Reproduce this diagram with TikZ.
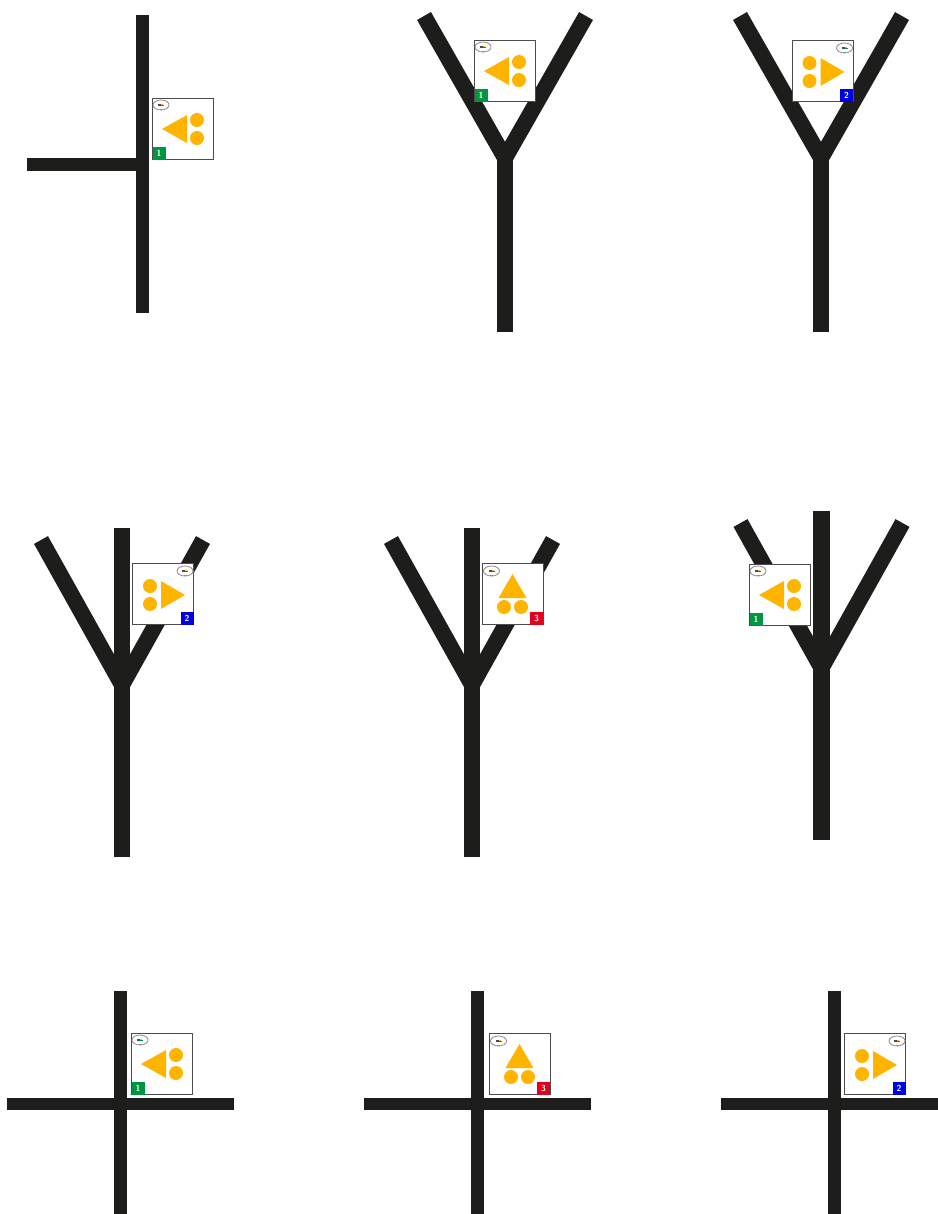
\documentclass[tikz,border=0pt]{standalone}
\usepackage{xcolor}
\usetikzlibrary{positioning,shapes.geometric}
\definecolor{roadblack}{HTML}{1D1D1B}
\definecolor{signyellow}{HTML}{FFB400}
\definecolor{badgegreen}{HTML}{00963F}
\definecolor{badgeblue}{HTML}{0000E6}
\definecolor{badgered}{HTML}{E2001A}

\begin{document}
\begin{tikzpicture}[
  x=0.75pt, y=-0.75pt,
  road/.style={draw=roadblack, line width=9.75pt, line join=miter},
  thinroad/.style={draw=roadblack, line width=9.5pt},
  signbox/.style={draw=black!70, fill=white, line width=0.5pt, minimum size=45.75pt,
    inner sep=0pt, outer sep=0pt},
  badge/.style={minimum size=9.75pt, inner sep=0pt, outer sep=0pt, text=white,
    font=\fontsize{6.5}{6.5}\selectfont\sffamily\bfseries},
  logo/.style={draw=black!45, fill=white, ellipse, line width=0.6pt, minimum width=12pt,
    minimum height=7.5pt, inner sep=0pt},
  blob/.style={fill=signyellow},
  logomarks/.pic={
    \fill[black!70] (-4,-1.5) rectangle (0,1.5);
    \fill[signyellow] (0,-1.5) rectangle (3,0);
    \fill[badgegreen] (0,0) rectangle (4,1.5);
    \draw[black!45, line width=0.8pt] (-2,6.5) -- (2,6.5);
  }
]
\useasboundingbox (0,0) rectangle (938,1214);

% Side road
\draw[road] (142.5,15) -- (142.5,313);
\draw[road] (27,164) -- (142.5,164);

% Forks with the stem ending at the junction
\foreach \n/\x/\y in {b/505/158, c/821/158} {
  \coordinate (fork\n) at (\x,\y);
  \draw[road, line width=12pt] (\x-81,\y-142) -- (fork\n) -- (\x+81,\y-142);
  \draw[road, line width=12pt] (fork\n) -- (\x,\y+174);
}

% Forks with the stem running through
\foreach \n/\x/\y in {d/122/685, e/472/685, f/821.5/668} {
  \coordinate (fork\n) at (\x,\y);
  \draw[road, line width=12pt] (\x-81,\y-145) -- (fork\n) -- (\x+81,\y-145);
  \draw[road, line width=12.5pt] (\x,\y-157) -- (\x,\y+172);
}

% Crossings
\foreach \n/\x in {g/120.5, h/477.5, i/834.5} {
  \coordinate (cross\n) at (\x,1104);
  \draw[thinroad] (\x,991) -- (\x,1214);
  \draw[thinroad] (\x-113.5,1104) -- (\x+113.5,1104);
}

% Signs with the arrow to the left
\foreach \n/\x/\y in {a/183/129, b/505/71, f/780/595, g/162/1064} {
  \node[signbox] (sign\n) at (\x,\y) {};
  \fill[blob] (\x-21,\y) -- (\x+4,\y-14) -- (\x+4,\y+14) -- cycle;
  \fill[blob] (\x+14,\y-9) circle (5.25pt);
  \fill[blob] (\x+14,\y+9) circle (5.25pt);
  \node[logo] (logo\n) at (\x-22,\y-24) {};
  \pic[scale=0.75] at (logo\n) {logomarks};
  \node[badge, fill=badgegreen, anchor=south west] (badge\n) at (sign\n.south west) {1};
}

% Signs with the arrow to the right
\foreach \n/\x/\y in {c/822.5/71, d/163/594, i/875/1064} {
  \node[signbox] (sign\n) at (\x,\y) {};
  \fill[blob] (\x+22,\y+1) -- (\x-2,\y-13) -- (\x-2,\y+15) -- cycle;
  \fill[blob] (\x-13,\y-8) circle (5.25pt);
  \fill[blob] (\x-13,\y+10) circle (5.25pt);
  \node[logo] (logo\n) at (\x+22,\y-23) {};
  \pic[scale=0.75] at (logo\n) {logomarks};
  \node[badge, fill=badgeblue, anchor=south east] (badge\n) at (sign\n.south east) {2};
}

% Signs with the arrow upwards
\foreach \n/\x/\y in {e/512.5/594, h/519.5/1064} {
  \node[signbox] (sign\n) at (\x,\y) {};
  \fill[blob] (\x,\y-20) -- (\x+14,\y+4) -- (\x-14,\y+4) -- cycle;
  \fill[blob] (\x-8.5,\y+13) circle (5.25pt);
  \fill[blob] (\x+8.5,\y+13) circle (5.25pt);
  \node[logo] (logo\n) at (\x-21,\y-23) {};
  \pic[scale=0.75] at (logo\n) {logomarks};
  \node[badge, fill=badgered, anchor=south east] (badge\n) at (sign\n.south east) {3};
}

\end{tikzpicture}
\end{document}
